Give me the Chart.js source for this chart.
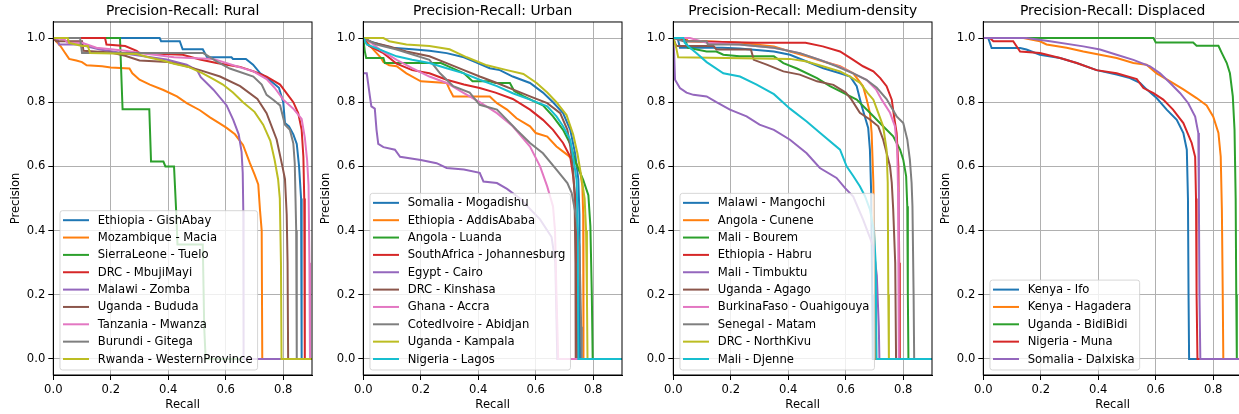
<!DOCTYPE html>
<html>
<head>
<meta charset="utf-8">
<script src="https://cdn.jsdelivr.net/npm/chart.js@4.4.1/dist/chart.umd.min.js"></script>
<style>
  html, body { margin: 0; padding: 0; background: #fff; }
  #wrap { position: relative; width: 1239px; height: 414px; overflow: hidden; }
  #wrap canvas { position: absolute; top: 0; }
</style>
</head>
<body>
<div id="wrap">
  <canvas id="c0" width="320" height="414" style="left:0px"></canvas>
  <canvas id="c1" width="320" height="414" style="left:310px"></canvas>
  <canvas id="c2" width="320" height="414" style="left:620px"></canvas>
  <canvas id="c3" width="320" height="414" style="left:930px"></canvas>
</div>
<script>
// axis ticks
const xTicks = [0, 0.2, 0.4, 0.6, 0.8];
const yTicks = [0, 0.2, 0.4, 0.6, 0.8, 1.0];

// matplotlib tab10
const palette = ['#1f77b4', '#ff7f0e', '#2ca02c', '#d62728', '#9467bd',
                 '#8c564b', '#e377c2', '#7f7f7f', '#bcbd22', '#17becf'];

// ---- Rural: [recall, precision]
const ruralNames = ['Ethiopia - GishAbay', 'Mozambique - Macia', 'SierraLeone - Tuelo', 'DRC - MbujiMayi',
  'Malawi - Zomba', 'Uganda - Bududa', 'Tanzania - Mwanza', 'Burundi - Gitega', 'Rwanda - WesternProvince'];
const ruralGishAbay = [[0,1],[0.37,1],[0.375,0.99],[0.44,0.99],[0.45,0.965],[0.52,0.965],[0.535,0.94],[0.62,0.94],
  [0.625,0.935],[0.67,0.935],[0.695,0.917],[0.72,0.89],[0.745,0.875],[0.765,0.86],[0.785,0.845],[0.8,0.8],
  [0.806,0.735],[0.82,0.725],[0.835,0.7],[0.847,0.67],[0.855,0.6],[0.862,0.5],[0.864,0],[1,0]];
const ruralMacia = [[0,1],[0.01,0.99],[0.025,0.975],[0.04,0.955],[0.055,0.935],[0.08,0.93],[0.1,0.925],[0.116,0.915],
  [0.17,0.912],[0.2,0.908],[0.265,0.905],[0.275,0.89],[0.3,0.87],[0.336,0.855],[0.383,0.838],[0.43,0.818],
  [0.464,0.797],[0.51,0.775],[0.545,0.753],[0.58,0.733],[0.603,0.72],[0.632,0.7],[0.66,0.667],[0.684,0.61],
  [0.7,0.575],[0.713,0.544],[0.719,0.465],[0.725,0.4],[0.727,0],[1,0]];
const ruralTuelo = [[0,1],[0.232,1],[0.241,0.778],[0.334,0.778],[0.34,0.615],[0.383,0.615],[0.39,0.6],[0.42,0.6],
  [0.428,0.45],[0.432,0.357],[0.52,0.357],[0.525,0.1],[0.53,0],[1,0]];
const ruralMbujiMayi = [[0,1],[0.18,1],[0.185,0.98],[0.25,0.975],[0.29,0.96],[0.3,0.953],[0.45,0.948],[0.51,0.933],
  [0.568,0.922],[0.65,0.91],[0.7,0.895],[0.742,0.88],[0.789,0.855],[0.81,0.83],[0.835,0.8],[0.852,0.766],
  [0.864,0.714],[0.87,0.63],[0.873,0.5],[0.875,0],[1,0]];
const ruralZomba = [[0,1],[0.015,0.995],[0.02,0.98],[0.09,0.98],[0.162,0.964],[0.278,0.948],[0.394,0.933],[0.464,0.917],
  [0.5,0.9],[0.513,0.878],[0.557,0.839],[0.603,0.79],[0.626,0.745],[0.645,0.7],[0.655,0.645],[0.659,0.58],
  [0.661,0.46],[0.662,0],[1,0]];
const ruralBududa = [[0,1],[0.01,0.99],[0.1,0.99],[0.105,0.96],[0.2,0.955],[0.25,0.945],[0.3,0.93],[0.4,0.925],
  [0.45,0.915],[0.51,0.9],[0.58,0.88],[0.65,0.85],[0.71,0.81],[0.742,0.766],[0.777,0.684],[0.797,0.6],
  [0.806,0.56],[0.812,0.45],[0.815,0.3],[0.817,0],[1,0]];
const ruralMwanza = [[0,1],[0.04,0.995],[0.05,0.985],[0.1,0.985],[0.15,0.97],[0.25,0.96],[0.33,0.95],[0.42,0.94],
  [0.557,0.935],[0.626,0.915],[0.696,0.896],[0.742,0.872],[0.77,0.845],[0.8,0.808],[0.835,0.78],[0.864,0.748],
  [0.875,0.69],[0.883,0.62],[0.888,0.54],[0.891,0.3],[0.893,0],[1,0]];
const ruralGitega = [[0,1],[0.093,1],[0.1,0.953],[0.522,0.953],[0.568,0.927],[0.614,0.905],[0.696,0.88],[0.725,0.855],
  [0.742,0.823],[0.766,0.807],[0.789,0.79],[0.806,0.73],[0.823,0.714],[0.835,0.672],[0.84,0.61],[0.845,0.4],
  [0.847,0],[1,0]];
const ruralWesternProvince = [[0,1],[0.05,1],[0.055,0.985],[0.1,0.975],[0.12,0.975],[0.128,0.953],[0.29,0.95],
  [0.33,0.94],[0.38,0.93],[0.42,0.92],[0.47,0.91],[0.52,0.89],[0.56,0.87],[0.59,0.855],[0.625,0.83],[0.66,0.8],
  [0.7,0.77],[0.73,0.73],[0.755,0.68],[0.77,0.62],[0.782,0.56],[0.788,0.5],[0.792,0.3],[0.794,0],[1,0]];

// ---- Urban
const urbanNames = ['Somalia - Mogadishu', 'Ethiopia - AddisAbaba', 'Angola - Luanda', 'SouthAfrica - Johannesburg',
  'Egypt - Cairo', 'DRC - Kinshasa', 'Ghana - Accra', 'CotedIvoire - Abidjan', 'Uganda - Kampala', 'Nigeria - Lagos'];
const urbanMogadishu = [[0,1],[0.02,0.99],[0.058,0.98],[0.1,0.97],[0.17,0.965],[0.23,0.96],[0.29,0.953],[0.35,0.94],
  [0.39,0.925],[0.44,0.906],[0.475,0.9],[0.52,0.88],[0.58,0.86],[0.625,0.83],[0.66,0.8],[0.695,0.766],[0.72,0.714],
  [0.737,0.64],[0.748,0.56],[0.752,0.45],[0.754,0],[1,0]];
const urbanAddisAbaba = [[0,1],[0.01,0.99],[0.035,0.964],[0.06,0.94],[0.07,0.925],[0.09,0.915],[0.116,0.912],[0.15,0.89],
  [0.2,0.865],[0.29,0.86],[0.3,0.84],[0.313,0.818],[0.44,0.818],[0.465,0.797],[0.5,0.777],[0.533,0.75],[0.58,0.725],
  [0.6,0.704],[0.64,0.693],[0.672,0.662],[0.71,0.636],[0.74,0.61],[0.755,0.58],[0.762,0.54],[0.765,0.45],[0.766,0],[1,0]];
const urbanLuanda = [[0,1],[0.005,0.96],[0.01,0.938],[0.07,0.938],[0.075,0.922],[0.27,0.922],[0.3,0.91],[0.35,0.89],
  [0.38,0.865],[0.44,0.865],[0.46,0.86],[0.51,0.86],[0.525,0.835],[0.555,0.82],[0.6,0.8],[0.625,0.79],[0.66,0.756],
  [0.695,0.714],[0.72,0.67],[0.74,0.61],[0.765,0.558],[0.783,0.51],[0.79,0.414],[0.795,0.2],[0.798,0],[1,0]];
const urbanJohannesburg = [[0,1],[0.02,0.975],[0.07,0.953],[0.116,0.92],[0.17,0.9],[0.23,0.89],[0.29,0.87],[0.35,0.855],
  [0.405,0.844],[0.46,0.83],[0.52,0.81],[0.58,0.777],[0.625,0.745],[0.66,0.714],[0.695,0.673],[0.72,0.63],[0.73,0.57],
  [0.738,0.5],[0.742,0.3],[0.744,0],[1,0]];
const urbanCairo = [[0,0.89],[0.012,0.89],[0.023,0.818],[0.028,0.787],[0.04,0.78],[0.046,0.714],[0.052,0.67],[0.07,0.66],
  [0.11,0.652],[0.128,0.63],[0.2,0.62],[0.255,0.61],[0.29,0.595],[0.35,0.59],[0.405,0.58],[0.418,0.553],[0.465,0.548],
  [0.5,0.53],[0.545,0.5],[0.615,0.435],[0.655,0.38],[0.668,0.3],[0.675,0],[1,0]];
const urbanKinshasa = [[0,1],[0.035,0.985],[0.09,0.974],[0.15,0.958],[0.23,0.943],[0.29,0.922],[0.35,0.9],[0.405,0.88],
  [0.465,0.86],[0.52,0.84],[0.58,0.818],[0.64,0.797],[0.685,0.766],[0.71,0.714],[0.72,0.662],[0.73,0.59],[0.735,0.506],
  [0.738,0.3],[0.739,0],[1,0]];
const urbanAccra = [[0,1],[0.02,0.99],[0.058,0.964],[0.116,0.932],[0.17,0.906],[0.23,0.88],[0.29,0.86],[0.35,0.828],
  [0.405,0.8],[0.465,0.766],[0.52,0.725],[0.58,0.662],[0.615,0.6],[0.64,0.537],[0.66,0.475],[0.667,0.4],[0.672,0.2],
  [0.678,0],[1,0]];
const urbanAbidjan = [[0,1],[0.046,0.98],[0.116,0.964],[0.23,0.932],[0.267,0.89],[0.313,0.85],[0.37,0.83],[0.405,0.792],
  [0.465,0.777],[0.5,0.745],[0.533,0.714],[0.58,0.673],[0.625,0.641],[0.672,0.59],[0.71,0.548],[0.725,0.517],
  [0.742,0.435],[0.752,0.35],[0.758,0.1],[0.76,0],[1,0]];
const urbanKampala = [[0,1],[0.07,1],[0.09,0.99],[0.15,0.98],[0.23,0.975],[0.3,0.965],[0.36,0.94],[0.43,0.915],
  [0.5,0.9],[0.557,0.888],[0.603,0.86],[0.64,0.83],[0.672,0.8],[0.707,0.76],[0.73,0.7],[0.745,0.64],[0.76,0.56],
  [0.77,0.5],[0.775,0.4],[0.778,0.2],[0.78,0],[1,0]];
const urbanLagos = [[0,1],[0.012,0.98],[0.058,0.964],[0.116,0.943],[0.17,0.932],[0.23,0.922],[0.29,0.906],[0.35,0.89],
  [0.405,0.87],[0.465,0.85],[0.52,0.828],[0.58,0.808],[0.64,0.787],[0.672,0.756],[0.695,0.725],[0.72,0.683],
  [0.73,0.63],[0.742,0.558],[0.746,0.4],[0.748,0],[1,0]];

// ---- Medium-density
const mediumNames = ['Malawi - Mangochi', 'Angola - Cunene', 'Mali - Bourem', 'Ethiopia - Habru', 'Mali - Timbuktu',
  'Uganda - Agago', 'BurkinaFaso - Ouahigouya', 'Senegal - Matam', 'DRC - NorthKivu', 'Mali - Djenne'];
const mediumMangochi = [[0,1],[0.015,1],[0.023,0.97],[0.17,0.97],[0.23,0.967],[0.35,0.958],[0.406,0.948],[0.464,0.927],
  [0.522,0.906],[0.58,0.89],[0.615,0.88],[0.638,0.85],[0.655,0.79],[0.668,0.75],[0.678,0.72],[0.684,0.652],
  [0.688,0.53],[0.692,0.2],[0.694,0],[1,0]];
const mediumCunene = [[0,1],[0.046,1],[0.05,0.99],[0.116,0.99],[0.23,0.985],[0.35,0.974],[0.406,0.958],[0.464,0.943],
  [0.522,0.927],[0.58,0.912],[0.626,0.89],[0.66,0.85],[0.673,0.808],[0.684,0.767],[0.69,0.704],[0.696,0.55],
  [0.702,0.2],[0.704,0],[1,0]];
const mediumBourem = [[0,1],[0.04,1],[0.05,0.97],[0.116,0.958],[0.15,0.958],[0.174,0.948],[0.23,0.943],[0.35,0.943],
  [0.383,0.922],[0.43,0.905],[0.5,0.875],[0.545,0.85],[0.59,0.83],[0.638,0.808],[0.684,0.767],[0.73,0.725],
  [0.765,0.694],[0.789,0.652],[0.8,0.621],[0.81,0.57],[0.814,0.476],[0.816,0.2],[0.818,0],[1,0]];
const mediumHabru = [[0,1],[0.05,0.99],[0.29,0.985],[0.46,0.985],[0.52,0.974],[0.58,0.958],[0.626,0.932],[0.66,0.912],
  [0.696,0.896],[0.72,0.875],[0.742,0.85],[0.76,0.808],[0.768,0.756],[0.777,0.704],[0.783,0.6],[0.786,0.3],
  [0.788,0],[1,0]];
const mediumTimbuktu = [[0,1],[0.003,0.95],[0.006,0.87],[0.023,0.844],[0.046,0.83],[0.07,0.823],[0.116,0.818],[0.15,0.8],
  [0.197,0.777],[0.255,0.756],[0.3,0.73],[0.35,0.714],[0.406,0.683],[0.464,0.641],[0.51,0.595],[0.568,0.564],
  [0.597,0.533],[0.626,0.506],[0.66,0.435],[0.696,0.35],[0.708,0.26],[0.715,0.1],[0.717,0],[1,0]];
const mediumAgago = [[0,1],[0.008,0.98],[0.012,0.975],[0.14,0.975],[0.15,0.964],[0.27,0.964],[0.28,0.932],[0.325,0.917],
  [0.383,0.896],[0.44,0.886],[0.5,0.865],[0.557,0.854],[0.6,0.83],[0.62,0.808],[0.649,0.767],[0.684,0.746],
  [0.713,0.725],[0.73,0.684],[0.742,0.642],[0.754,0.6],[0.76,0.549],[0.765,0.466],[0.772,0.3],[0.775,0],[1,0]];
const mediumOuahigouya = [[0,1],[0.058,1],[0.116,0.985],[0.23,0.98],[0.35,0.97],[0.44,0.953],[0.51,0.932],[0.58,0.91],
  [0.626,0.89],[0.672,0.87],[0.705,0.84],[0.725,0.808],[0.754,0.767],[0.771,0.725],[0.779,0.652],[0.782,0.52],
  [0.784,0.2],[0.785,0],[1,0]];
const mediumMatam = [[0,1],[0.035,0.99],[0.116,0.99],[0.12,0.98],[0.23,0.98],[0.35,0.97],[0.44,0.953],[0.51,0.932],
  [0.568,0.912],[0.626,0.89],[0.672,0.87],[0.708,0.845],[0.742,0.81],[0.777,0.756],[0.8,0.735],[0.814,0.684],
  [0.823,0.621],[0.829,0.549],[0.832,0.476],[0.836,0.2],[0.838,0],[1,0]];
const mediumNorthKivu = [[0,1],[0.01,0.97],[0.017,0.94],[0.406,0.935],[0.464,0.927],[0.52,0.912],[0.58,0.896],
  [0.615,0.88],[0.65,0.86],[0.675,0.83],[0.696,0.808],[0.713,0.767],[0.73,0.725],[0.742,0.652],[0.746,0.55],
  [0.748,0.2],[0.75,0],[1,0]];
const mediumDjenne = [[0,1],[0.035,1],[0.04,0.985],[0.058,0.97],[0.08,0.953],[0.116,0.925],[0.174,0.89],[0.232,0.88],
  [0.29,0.855],[0.35,0.825],[0.406,0.78],[0.464,0.74],[0.51,0.705],[0.58,0.652],[0.603,0.6],[0.626,0.57],
  [0.649,0.538],[0.667,0.507],[0.684,0.466],[0.698,0.4],[0.704,0.3],[0.707,0],[1,0]];

// ---- Displaced
const displacedNames = ['Kenya - Ifo', 'Kenya - Hagadera', 'Uganda - BidiBidi', 'Nigeria - Muna', 'Somalia - Dalxiska'];
const displacedIfo = [[0,1],[0.017,1],[0.029,0.969],[0.128,0.969],[0.15,0.964],[0.197,0.948],[0.267,0.938],[0.325,0.922],
  [0.394,0.9],[0.464,0.886],[0.51,0.875],[0.545,0.86],[0.568,0.84],[0.603,0.813],[0.638,0.777],[0.673,0.745],
  [0.696,0.704],[0.708,0.652],[0.712,0.5],[0.714,0.2],[0.716,0],[1,0]];
const displacedHagadera = [[0,1],[0.14,1],[0.197,0.99],[0.22,0.98],[0.29,0.97],[0.348,0.958],[0.406,0.948],[0.464,0.938],
  [0.522,0.922],[0.568,0.917],[0.603,0.89],[0.65,0.865],[0.696,0.84],[0.742,0.813],[0.777,0.79],[0.8,0.755],
  [0.818,0.704],[0.826,0.63],[0.83,0.465],[0.833,0.2],[0.835,0],[1,0]];
const displacedBidiBidi = [[0,1],[0.592,1],[0.6,0.986],[0.73,0.986],[0.742,0.976],[0.818,0.976],[0.83,0.953],[0.847,0.922],
  [0.858,0.89],[0.868,0.818],[0.874,0.714],[0.878,0.5],[0.88,0.2],[0.882,0],[1,0]];
const displacedMuna = [[0,1],[0.023,1],[0.035,0.99],[0.104,0.99],[0.128,0.958],[0.197,0.953],[0.267,0.938],[0.325,0.922],
  [0.394,0.9],[0.464,0.89],[0.534,0.872],[0.557,0.844],[0.592,0.828],[0.626,0.808],[0.66,0.777],[0.696,0.735],
  [0.725,0.673],[0.737,0.63],[0.74,0.5],[0.742,0.2],[0.745,0],[1,0]];
const displacedDalxiska = [[0,1],[0.15,1],[0.232,0.99],[0.348,0.974],[0.406,0.964],[0.464,0.948],[0.522,0.932],
  [0.58,0.912],[0.615,0.89],[0.65,0.86],[0.685,0.828],[0.713,0.797],[0.737,0.755],[0.748,0.704],[0.75,0.5],
  [0.752,0.2],[0.755,0],[1,0]];

const panels = [
  { id: 'c0', title: 'Precision-Recall: Rural', names: ruralNames,
    curves: [ruralGishAbay, ruralMacia, ruralTuelo, ruralMbujiMayi, ruralZomba, ruralBududa, ruralMwanza, ruralGitega, ruralWesternProvince] },
  { id: 'c1', title: 'Precision-Recall: Urban', names: urbanNames,
    curves: [urbanMogadishu, urbanAddisAbaba, urbanLuanda, urbanJohannesburg, urbanCairo, urbanKinshasa, urbanAccra, urbanAbidjan, urbanKampala, urbanLagos] },
  { id: 'c2', title: 'Precision-Recall: Medium-density', names: mediumNames,
    curves: [mediumMangochi, mediumCunene, mediumBourem, mediumHabru, mediumTimbuktu, mediumAgago, mediumOuahigouya, mediumMatam, mediumNorthKivu, mediumDjenne] },
  { id: 'c3', title: 'Precision-Recall: Displaced', names: displacedNames,
    curves: [displacedIfo, displacedHagadera, displacedBidiBidi, displacedMuna, displacedDalxiska] }
];

const FONT = 'DejaVu Sans';
const FS = 11.6;
Chart.defaults.font.family = FONT;
Chart.defaults.font.size = FS;
Chart.defaults.color = '#000';

// full box around the axes (top and right spines)
const frame = {
  id: 'frame',
  afterDatasetsDraw(chart) {
    const a = chart.chartArea, ctx = chart.ctx;
    ctx.save();
    ctx.strokeStyle = '#000';
    ctx.lineWidth = 1;
    ctx.strokeRect(a.left, a.top, a.right - a.left, a.bottom - a.top);
    ctx.restore();
  }
};

// legend box inside the axes, lower left, like matplotlib's loc='lower left'
const innerLegend = {
  id: 'innerLegend',
  afterDraw(chart) {
    const ctx = chart.ctx, a = chart.chartArea;
    const sets = chart.data.datasets;
    ctx.save();
    ctx.font = FS + 'px "' + FONT + '"';
    let tw = 0;
    sets.forEach(d => { tw = Math.max(tw, ctx.measureText(d.label).width); });
    const rowH = 17.35;
    const w = 37.7 + tw + 5;
    const h = 20.5 + (sets.length - 1) * rowH;
    const x = a.left + 6.7, y = a.bottom - 5 - h;
    ctx.beginPath();
    if (ctx.roundRect) ctx.roundRect(x, y, w, h, 2.5); else ctx.rect(x, y, w, h);
    ctx.fillStyle = 'rgba(255,255,255,0.8)';
    ctx.fill();
    ctx.strokeStyle = 'rgba(204,204,204,0.8)';
    ctx.lineWidth = 1;
    ctx.stroke();
    ctx.textBaseline = 'middle';
    ctx.textAlign = 'left';
    sets.forEach((d, i) => {
      const cy = y + 9.5 + i * rowH;
      ctx.strokeStyle = d.borderColor;
      ctx.lineWidth = 2;
      ctx.beginPath();
      ctx.moveTo(x + 3, cy);
      ctx.lineTo(x + 29, cy);
      ctx.stroke();
      ctx.fillStyle = '#000';
      ctx.fillText(d.label, x + 37.7, cy + 0.5);
    });
    ctx.restore();
  }
};

function makeChart(p) {
  const n = p.curves.length;
  const datasets = p.curves.map((c, i) => ({
    label: p.names[i],
    data: c.map(pt => ({ x: pt[0], y: pt[1] })),
    borderColor: palette[i],
    backgroundColor: palette[i],
    borderWidth: 2,
    pointRadius: 0,
    tension: 0,
    fill: false,
    order: n - i   // later series on top, as in matplotlib
  }));

  new Chart(document.getElementById(p.id), {
    type: 'line',
    data: { datasets: datasets },
    options: {
      responsive: false,
      animation: false,
      devicePixelRatio: 1,
      events: [],
      layout: { padding: { left: 0, right: 8, top: 0, bottom: 0 } },
      plugins: {
        legend: { display: false },
        tooltip: { enabled: false },
        title: {
          display: true,
          text: p.title,
          fullSize: false,
          color: '#000',
          font: { family: FONT, size: 13.9, weight: 'normal', lineHeight: 1.2 },
          padding: { top: 3.5, bottom: 1.8 }
        }
      },
      scales: {
        x: {
          type: 'linear',
          min: 0,
          max: 0.9,
          afterBuildTicks: s => { s.ticks = xTicks.map(v => ({ value: v })); },
          afterFit: s => { s.height = 39; },
          ticks: { padding: 3, maxRotation: 0, callback: v => v.toFixed(1) },
          grid: { color: '#b0b0b0', lineWidth: 1, tickColor: '#000', tickLength: 5 },
          border: { display: true, color: '#000', width: 1 },
          title: { display: true, text: 'Recall', color: '#000', font: { size: FS }, padding: { top: 0, bottom: 2 } }
        },
        y: {
          type: 'linear',
          min: -0.05,
          max: 1.05,
          afterBuildTicks: s => { s.ticks = yTicks.map(v => ({ value: v })); },
          afterFit: s => { s.width = 53.3; },
          ticks: { padding: 3, callback: v => v.toFixed(1) },
          grid: { color: '#b0b0b0', lineWidth: 1, tickColor: '#000', tickLength: 5 },
          border: { display: true, color: '#000', width: 1 },
          title: { display: true, text: 'Precision', color: '#000', font: { size: FS }, padding: { top: 8.7, bottom: 0 } }
        }
      }
    },
    plugins: [frame, innerLegend]
  });
}

panels.forEach(makeChart);
</script>
</body>
</html>
